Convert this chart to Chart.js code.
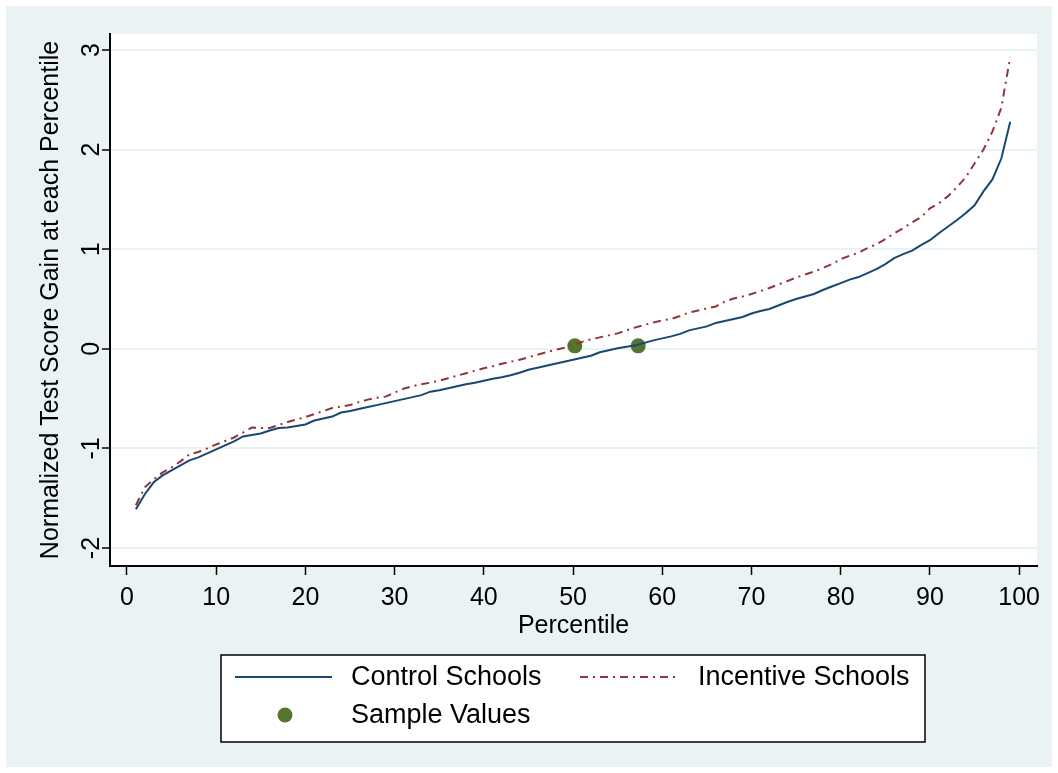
<!DOCTYPE html>
<html>
<head>
<meta charset="utf-8">
<script src="https://cdn.jsdelivr.net/npm/chart.js@4"></script>
<style>
body{margin:0;background:#fff;}
#wrap{position:absolute;left:6px;top:6px;width:1046px;height:761px;background:#eaf2f3;}
</style>
</head>
<body>
<div id="wrap"><canvas id="myChart" width="1046" height="761"></canvas></div>
<script>
// percentiles 1..99
const percentiles = [1,2,3,4,5,6,7,8,9,10,11,12,13,14,15,16,17,18,19,20,
  21,22,23,24,25,26,27,28,29,30,31,32,33,34,35,36,37,38,39,40,
  41,42,43,44,45,46,47,48,49,50,51,52,53,54,55,56,57,58,59,60,
  61,62,63,64,65,66,67,68,69,70,71,72,73,74,75,76,77,78,79,80,
  81,82,83,84,85,86,87,88,89,90,91,92,93,94,95,96,97,98,99];

// gain at each percentile, control schools
const controlGain = [-1.61,-1.46,-1.34,-1.27,-1.22,-1.17,-1.12,-1.09,-1.05,-1.01,
  -0.97,-0.93,-0.88,-0.865,-0.85,-0.82,-0.795,-0.79,-0.775,-0.76,
  -0.72,-0.70,-0.68,-0.64,-0.625,-0.605,-0.585,-0.565,-0.545,-0.525,
  -0.505,-0.485,-0.465,-0.43,-0.415,-0.395,-0.375,-0.355,-0.34,-0.32,
  -0.30,-0.285,-0.265,-0.24,-0.21,-0.19,-0.17,-0.15,-0.13,-0.11,
  -0.09,-0.07,-0.035,-0.015,0.005,0.02,0.035,0.06,0.085,0.105,
  0.125,0.15,0.185,0.205,0.225,0.26,0.28,0.30,0.32,0.355,
  0.38,0.40,0.435,0.47,0.50,0.525,0.55,0.59,0.625,0.66,
  0.695,0.72,0.76,0.80,0.85,0.91,0.95,0.985,1.04,1.09,
  1.16,1.225,1.29,1.36,1.44,1.58,1.70,1.91,2.28];

// gain at each percentile, incentive schools
const incentiveGain = [-1.57,-1.39,-1.31,-1.24,-1.19,-1.13,-1.06,-1.035,-1.00,-0.96,
  -0.925,-0.89,-0.84,-0.79,-0.795,-0.795,-0.765,-0.735,-0.71,-0.685,
  -0.655,-0.625,-0.595,-0.58,-0.565,-0.535,-0.51,-0.49,-0.48,-0.44,
  -0.40,-0.375,-0.355,-0.34,-0.32,-0.295,-0.27,-0.245,-0.22,-0.195,
  -0.175,-0.15,-0.13,-0.11,-0.085,-0.06,-0.035,-0.01,0.01,0.04,
  0.07,0.095,0.115,0.135,0.155,0.185,0.215,0.24,0.265,0.285,
  0.30,0.33,0.365,0.385,0.405,0.425,0.475,0.505,0.525,0.55,
  0.58,0.61,0.645,0.68,0.715,0.745,0.775,0.81,0.85,0.90,
  0.935,0.965,1.01,1.05,1.10,1.16,1.21,1.27,1.32,1.41,
  1.46,1.53,1.62,1.72,1.86,2.00,2.18,2.42,2.93];

// the two green dots
const sampleX = [50.2, 57.3];
const sampleY = [0.03, 0.03];

const xTicks = [0,10,20,30,40,50,60,70,80,90,100];
const yTicks = [-2,-1,0,1,2,3];

const FONT = '"Liberation Sans", Arial, sans-serif';
const NAVY = '#1a476f', MAROON = '#90353b', GREEN = '#55752f';

// white plot region
const plotBg = {
  id: 'plotBg',
  beforeDraw(chart) {
    const {ctx, chartArea: a} = chart;
    ctx.save();
    ctx.fillStyle = '#fff';
    ctx.fillRect(a.left, a.top, a.right - a.left, a.bottom - a.top);
    ctx.restore();
  }
};

// y tick labels are drawn turned sideways, like stata does
const yLabels = {
  id: 'yLabels',
  afterDraw(chart) {
    const s = chart.scales.y, ctx = chart.ctx;
    ctx.save();
    ctx.fillStyle = '#000';
    ctx.font = '25px ' + FONT;
    ctx.textAlign = 'center';
    ctx.textBaseline = 'middle';
    yTicks.forEach(v => {
      ctx.save();
      ctx.translate(s.right - 18, s.getPixelForValue(v));
      ctx.rotate(-Math.PI / 2);
      ctx.fillText(String(v), 0, 0);
      ctx.restore();
    });
    ctx.restore();
  }
};

// boxed legend under the plot
const boxLegend = {
  id: 'boxLegend',
  afterDraw(chart) {
    const ctx = chart.ctx;
    const ds = chart.data.datasets;
    ctx.save();
    ctx.fillStyle = '#fff';
    ctx.fillRect(215, 649, 704, 87);
    ctx.strokeStyle = '#000';
    ctx.lineWidth = 1.5;
    ctx.strokeRect(215, 649, 704, 87);

    ctx.lineWidth = 2;
    ctx.strokeStyle = ds[0].borderColor;
    ctx.beginPath(); ctx.moveTo(229, 671); ctx.lineTo(326, 671); ctx.stroke();

    ctx.strokeStyle = ds[1].borderColor;
    ctx.setLineDash(ds[1].borderDash);
    ctx.beginPath(); ctx.moveTo(574, 671); ctx.lineTo(674, 671); ctx.stroke();
    ctx.setLineDash([]);

    ctx.fillStyle = ds[2].backgroundColor;
    ctx.beginPath(); ctx.arc(279, 709, 7.5, 0, Math.PI * 2); ctx.fill();

    ctx.fillStyle = '#000';
    ctx.font = '27px ' + FONT;
    ctx.textAlign = 'left';
    ctx.textBaseline = 'middle';
    ctx.fillText(ds[0].label, 345, 672);
    ctx.fillText(ds[1].label, 692, 672);
    ctx.fillText(ds[2].label, 345, 710);
    ctx.restore();
  }
};

const ctx = document.getElementById('myChart');

new Chart(ctx, {
  type: 'scatter',
  data: {
    datasets: [
      {
        label: 'Control Schools',
        data: percentiles.map((p, i) => ({x: p, y: controlGain[i]})),
        showLine: true,
        borderColor: NAVY,
        borderWidth: 2,
        pointRadius: 0,
        tension: 0
      },
      {
        label: 'Incentive Schools',
        data: percentiles.map((p, i) => ({x: p, y: incentiveGain[i]})),
        showLine: true,
        borderColor: MAROON,
        borderWidth: 2,
        borderDash: [8, 5, 2, 5],
        pointRadius: 0,
        tension: 0
      },
      {
        label: 'Sample Values',
        data: sampleX.map((x, i) => ({x: x, y: sampleY[i]})),
        showLine: false,
        backgroundColor: GREEN,
        borderColor: GREEN,
        pointRadius: 7.5,
        pointBorderWidth: 0
      }
    ]
  },
  options: {
    responsive: false,
    animation: false,
    devicePixelRatio: 1,
    layout: { padding: { left: 0, top: 28, right: 15, bottom: 121 } },
    plugins: { legend: { display: false }, tooltip: { enabled: false } },
    scales: {
      x: {
        type: 'linear',
        min: -1.9,
        max: 102.0,
        afterBuildTicks: s => { s.ticks = xTicks.map(v => ({value: v})); },
        afterFit: s => { s.height = 80; },
        grid: { drawOnChartArea: false, drawTicks: true, tickLength: 9, tickColor: '#000', tickWidth: 1.5 },
        border: { color: '#000', width: 2 },
        ticks: { color: '#000', font: { family: FONT, size: 25 }, padding: 8, maxRotation: 0 },
        title: { display: true, text: 'Percentile', color: '#000', font: { family: FONT, size: 25 }, padding: { top: 0, bottom: 5 } }
      },
      y: {
        type: 'linear',
        min: -2.18,
        max: 3.16,
        afterBuildTicks: s => { s.ticks = yTicks.map(v => ({value: v})); },
        afterFit: s => { s.width = 104; },
        grid: { color: '#eaf2f3', lineWidth: 2, drawTicks: true, tickLength: 8, tickColor: '#000', tickWidth: 1.5 },
        border: { color: '#000', width: 2 },
        ticks: { color: 'rgba(0,0,0,0)', font: { family: FONT, size: 25 } },
        title: { display: true, text: 'Normalized Test Score Gain at each Percentile', color: '#000', font: { family: FONT, size: 25 }, padding: { top: 30, bottom: 0 } }
      }
    }
  },
  plugins: [plotBg, yLabels, boxLegend]
});
</script>
</body>
</html>
